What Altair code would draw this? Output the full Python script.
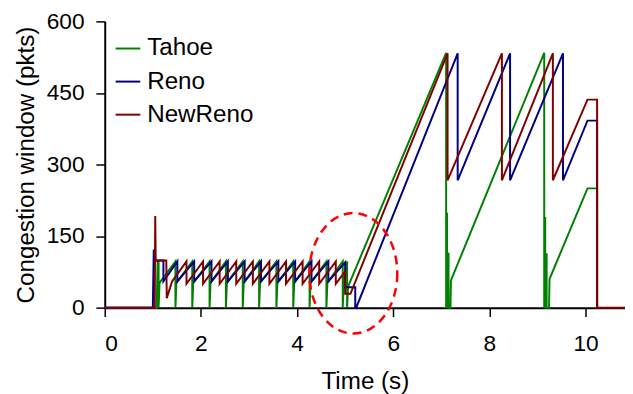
import altair as alt
import pandas as pd

series_names = ["Tahoe", "Reno", "NewReno"]
series_colors = ["#008000", "#000080", "#800000"]

tahoe_t = [0, 1.08, 1.10, 1.12, 1.12, 1.14, 1.47, 1.47, 1.49, 1.82, 1.82, 1.84, 2.18, 2.18, 2.20,
           2.52, 2.52, 2.54, 2.87, 2.87, 2.89, 3.21, 3.21, 3.23, 3.57, 3.57, 3.59, 3.92, 3.92, 3.94,
           4.26, 4.26, 4.28, 4.61, 4.61, 4.63, 4.95, 4.95, 4.97, 5.04, 5.04, 5.06, 7.10, 7.10,
           7.12, 7.12, 7.15, 7.15, 7.19, 7.20, 9.14, 9.14, 9.16, 9.16, 9.19, 9.19, 9.24, 9.25,
           10.04, 10.24, 10.24]
tahoe_w = [0, 0, 98, 98, 0, 52, 97, 0, 52, 97, 0, 52, 97, 0, 52,
           97, 0, 52, 97, 0, 52, 97, 0, 52, 97, 0, 52, 97, 0, 52,
           97, 0, 52, 97, 0, 52, 97, 0, 52, 97, 0, 44, 534, 0,
           199, 0, 115, 0, 0, 57, 534, 0, 190, 0, 114, 0, 0, 60,
           250, 250, 0]

reno_t = [0, 1.00, 1.02, 1.03, 1.22, 1.22, 1.51, 1.51, 1.86, 1.86, 2.22, 2.22, 2.56, 2.56,
          2.91, 2.91, 3.25, 3.25, 3.61, 3.61, 3.96, 3.96, 4.30, 4.30, 4.65, 4.65, 5.00, 5.00,
          5.21, 5.21, 5.23, 7.34, 7.34, 8.43, 8.43, 9.53, 9.53, 10.04, 10.24, 10.24]
reno_w = [0, 0, 122, 99, 99, 55, 97, 55, 97, 55, 97, 55, 97, 55,
          97, 55, 97, 55, 97, 55, 97, 55, 97, 55, 97, 55, 95, 43,
          43, 0, 0, 533, 267, 533, 267, 533, 267, 392, 392, 0]

newreno_t = [0, 1.04, 1.05, 1.06, 1.28, 1.29, 1.40, 1.70, 1.70, 2.045, 2.045, 2.39, 2.39,
             2.735, 2.735, 3.08, 3.08, 3.425, 3.425, 3.77, 3.77, 4.115, 4.115, 4.46, 4.46,
             4.805, 4.805, 5.00, 5.00, 5.11, 7.13, 7.13, 8.26, 8.26, 9.32, 9.32, 10.04, 10.24,
             10.24, 10.82]
newreno_w = [0, 0, 192, 99, 99, 20, 55, 97, 50, 97, 50, 97, 50,
             97, 50, 97, 50, 97, 50, 97, 50, 97, 50, 97, 50,
             97, 50, 76, 29, 29, 533, 267, 533, 267, 533, 267, 436, 436,
             0, 0]

x_ticks = [0, 2, 4, 6, 8, 10]
y_ticks = [0, 150, 300, 450, 600]

# dashed ellipse annotation (centre in data units)
ellipse_t = [5.17]
ellipse_w = [72]

rows = []
for name, ts, ws in [("Tahoe", tahoe_t, tahoe_w), ("Reno", reno_t, reno_w),
                     ("NewReno", newreno_t, newreno_w)]:
    for i, (t, w) in enumerate(zip(ts, ws)):
        rows.append({"series": name, "t": t, "w": w, "i": i})
df = pd.DataFrame(rows)

FONT = "Liberation Sans"

xscale = alt.Scale(domain=[0, 10.82], nice=False, zero=False)
yscale = alt.Scale(domain=[0, 600], nice=False)

lines = alt.Chart(df).mark_line(strokeWidth=2).encode(
    x=alt.X("t:Q", scale=xscale,
            axis=alt.Axis(values=x_ticks, title="Time (s)", labelPadding=16, titlePadding=15)),
    y=alt.Y("w:Q", scale=yscale,
            axis=alt.Axis(values=y_ticks, title="Congestion window (pkts)", labelPadding=12,
                          titlePadding=8)),
    color=alt.Color("series:N", sort=series_names,
                    scale=alt.Scale(domain=series_names, range=series_colors),
                    legend=alt.Legend(title=None, orient="none", legendX=10, legendY=14,
                                      symbolType="stroke", symbolSize=625,
                                      symbolStrokeWidth=2, labelFontSize=24.5, labelFont=FONT,
                                      labelColor="black", labelOffset=6, rowPadding=8.5,
                                      padding=0)),
    order=alt.Order("i:Q"),
)

ell_path = ("M 0.73 0 C 0.73 0.5523 0.4032 1 0 1 C -0.4032 1 -0.73 0.5523 -0.73 0 "
            "C -0.73 -0.5523 -0.4032 -1 0 -1 C 0.4032 -1 0.73 -0.5523 0.73 0 Z")
ell = alt.Chart(pd.DataFrame({"t": ellipse_t, "w": ellipse_w})).mark_point(
    shape=ell_path, size=14884, filled=False, stroke="#FF0000", strokeWidth=2.5,
    strokeDash=[9, 6], opacity=1,
).encode(x=alt.X("t:Q", scale=xscale), y=alt.Y("w:Q", scale=yscale))

chart = alt.layer(lines, ell).properties(
    width=527, height=290,
    background="white",
    autosize=alt.AutoSizeParams(type="none"),
    padding={"left": 98, "top": 11, "right": 0, "bottom": 92},
).configure_view(stroke=None).configure_axis(
    grid=False, domainColor="black", domainWidth=2, tickColor="black", tickWidth=1.5,
    tickSize=9, labelFont=FONT, labelFontSize=23, labelColor="black", titleFont=FONT,
    titleFontSize=24.5, titleFontWeight="normal", titleColor="black",
)

chart.save("out.html", embed_options={"renderer": "svg", "actions": False})
